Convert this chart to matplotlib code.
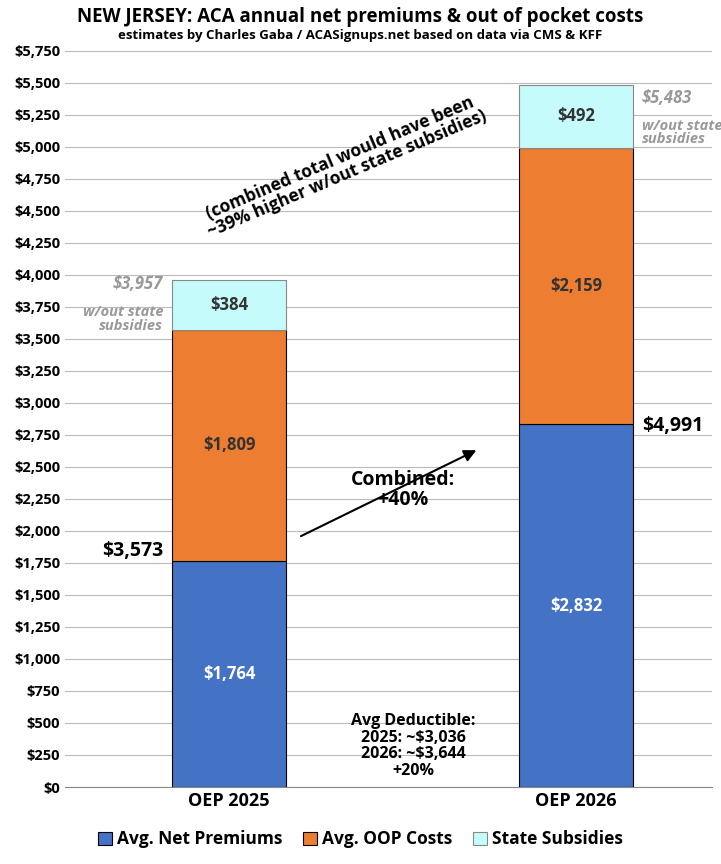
import matplotlib.pyplot as plt
import numpy as np

plt.rcParams['font.family'] = ['Open Sans', 'DejaVu Sans']

years = ['OEP 2025', 'OEP 2026']
net_prem = [1764, 2832]
oop = [1809, 2159]
state_sub = [384, 492]
combined = [3573, 4991]
no_sub_total = [3957, 5483]

blue = '#4472C4'
orange = '#ED7D31'
cyan = '#C6FBFB'

fig = plt.figure(figsize=(7.21, 8.64), dpi=100)
ax = fig.add_axes([65/721, 1-787/864, 647/721, (787-38)/864])

x = np.arange(len(years))
w = 0.33
ax.bar(x, net_prem, w, color=blue, edgecolor='black', linewidth=0.8, label='Avg. Net Premiums', zorder=3)
ax.bar(x, oop, w, bottom=net_prem, color=orange, edgecolor='black', linewidth=0.8, label='Avg. OOP Costs', zorder=3)
bot2 = np.array(net_prem) + np.array(oop)
ax.bar(x, state_sub, w, bottom=bot2, color=cyan, edgecolor='#888888', linewidth=0.8, label='State Subsidies', zorder=3)

for i in x:
    ax.text(i, net_prem[i]/2, f'${net_prem[i]:,}', ha='center', va='center', color='white', fontsize=12, fontweight='bold')
    ax.text(i, net_prem[i] + oop[i]/2, f'${oop[i]:,}', ha='center', va='center', color='#333333', fontsize=12, fontweight='bold')
    ax.text(i, bot2[i] + state_sub[i]/2, f'${state_sub[i]:,}', ha='center', va='center', color='#333333', fontsize=12, fontweight='bold')

# combined totals sit at the top of the blue segment
ax.text(-0.19, net_prem[0] + 80, f'${combined[0]:,}', ha='right', va='center', fontsize=14, fontweight='bold')
ax.text(1.19, net_prem[1] - 10, f'${combined[1]:,}', ha='left', va='center', fontsize=14, fontweight='bold')

ax.text(-0.19, no_sub_total[0] - 30, f'${no_sub_total[0]:,}', ha='right', va='center', fontsize=12,
        fontweight='bold', style='italic', color='#999999')
ax.text(-0.19, no_sub_total[0] - 300, 'w/out state\nsubsidies', ha='right', va='center', fontsize=10.5,
        fontweight='bold', style='italic', color='#999999', linespacing=0.95)
ax.text(1.19, no_sub_total[1] - 100, f'${no_sub_total[1]:,}', ha='left', va='center', fontsize=12,
        fontweight='bold', style='italic', color='#999999')
ax.text(1.19, no_sub_total[1] - 370, 'w/out state\nsubsidies', ha='left', va='center', fontsize=10.5,
        fontweight='bold', style='italic', color='#999999', linespacing=0.95)

ax.text(0.33, 4850, '(combined total would have been\n~39% higher w/out state subsidies)', ha='center', va='center',
        rotation=23, fontsize=12.5, fontweight='bold', linespacing=1.0)

ax.annotate('', xy=(0.72, 2640), xytext=(0.2, 1950),
            arrowprops=dict(arrowstyle='-|>', color='black', lw=1.5, mutation_scale=18))
ax.text(0.5, 2320, 'Combined:\n+40%', ha='center', va='center', fontsize=14, fontweight='bold', linespacing=1.0)

ax.text(0.53, 320, 'Avg Deductible:\n2025: ~$3,036\n2026: ~$3,644\n+20%', ha='center', va='center',
        fontsize=11.5, fontweight='bold', linespacing=1.05)

ax.set_xlim(-0.473, 1.392)
ax.set_ylim(0, 5850)
ax.set_yticks(np.arange(0, 5751, 250))
ax.set_yticklabels([f'${v:,}' for v in np.arange(0, 5751, 250)], fontsize=10.5, fontweight='bold')
ax.set_xticks(x)
ax.set_xticklabels(years, fontsize=13, fontweight='bold')
ax.tick_params(axis='both', length=0)
ax.grid(axis='y', color='#bbbbbb', linewidth=0.8, zorder=0)
for s in ['top', 'right', 'left']:
    ax.spines[s].set_visible(False)
ax.spines['bottom'].set_color('#888888')

fig.text(0.5, 1-17/864, 'NEW JERSEY: ACA annual net premiums & out of pocket costs', ha='center', va='center',
         fontsize=13.5, fontweight='bold')
fig.text(0.5, 1-36/864, 'estimates by Charles Gaba / ACASignups.net based on data via CMS & KFF', ha='center',
         va='center', fontsize=9.5, fontweight='bold')

fig.legend(loc='lower center', bbox_to_anchor=(0.5, 0.0), ncol=3, frameon=False,
           prop={'weight': 'bold', 'size': 12.5}, handlelength=0.8, handleheight=0.8, columnspacing=1.2,
           handletextpad=0.3)

fig.savefig('out.png', dpi=100)
